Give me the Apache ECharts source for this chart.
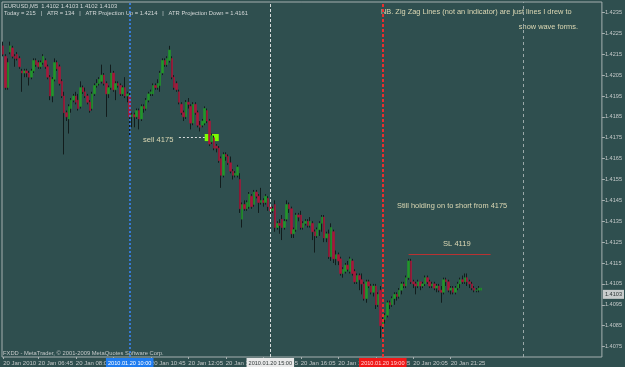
<!DOCTYPE html>
<html>
<head>
<meta charset="utf-8">
<script src="https://cdn.jsdelivr.net/npm/echarts@6/dist/echarts.min.js"></script>
<style>
  html, body { margin: 0; padding: 0; background: #2f4f4f; }
  #chart { width: 625px; height: 367px; }
</style>
</head>
<body>
<div id="chart"></div>
<script>
// EURUSD M5, 20 Jan 2010, one bar every 5 minutes from 05:30
const opens = [
  1.4219,1.4214,1.4199,1.4216,1.4218,1.4214,1.4215,1.4213,1.4207,1.4206,
  1.4207,1.4206,1.4204,1.4207,1.4212,1.4211,1.4209,1.4211,1.4212,1.4209,
  1.4204,1.4195,1.4203,1.4211,1.4209,1.4202,1.4195,1.4187,1.4184,1.4189,
  1.4193,1.4195,1.4193,1.4190,1.4199,1.4197,1.4195,1.4192,1.4189,1.4196,
  1.4200,1.4201,1.4202,1.4205,1.4201,1.4196,1.4199,1.4206,1.4198,1.4201,
  1.4200,1.4196,1.4199,1.4195,1.4195,1.4185,1.4186,1.4185,1.4188,1.4184,
  1.4190,1.4189,1.4193,1.4196,1.4196,1.4200,1.4199,1.4200,1.4206,1.4212,
  1.4210,1.4212,1.4213,1.4204,1.4201,1.4197,1.4191,1.4187,1.4185,1.4192,
  1.4190,1.4182,1.4191,1.4187,1.4181,1.4181,1.4182,1.4188,1.4183,1.4173,
  1.4175,1.4171,1.4170,1.4165,1.4157,1.4167,1.4166,1.4163,1.4159,1.4157,
  1.4157,1.4155,1.4136,1.4143,1.4141,1.4142,1.4147,1.4143,1.4149,1.4147,
  1.4144,1.4145,1.4144,1.4146,1.4142,1.4140,1.4143,1.4132,1.4134,1.4136,
  1.4132,1.4136,1.4143,1.4141,1.4129,1.4131,1.4138,1.4138,1.4132,1.4134,
  1.4135,1.4133,1.4134,1.4130,1.4128,1.4131,1.4134,1.4137,1.4127,1.4129,
  1.4118,1.4130,1.4117,1.4119,1.4117,1.4110,1.4111,1.4114,1.4111,1.4116,
  1.4111,1.4106,1.4109,1.4107,1.4105,1.4098,1.4106,1.4104,1.4101,1.4104,
  1.4095,1.4102,1.4085,1.4088,1.4090,1.4096,1.4095,1.4098,1.4100,1.4099,
  1.4102,1.4105,1.4104,1.4108,1.4116,1.4106,1.4105,1.4104,1.4106,1.4104,
  1.4105,1.4108,1.4106,1.4104,1.4105,1.4103,1.4104,1.4102,1.4101,1.4107,
  1.4106,1.4102,1.4103,1.4101,1.4103,1.4105,1.4107,1.4106,1.4108,1.4106,
  1.4105,1.4103,1.4102,1.4102,1.4102
];
const closes = [
  1.4215,1.4199,1.4211,1.4219,1.4214,1.4213,1.4213,1.4209,1.4206,1.4207,
  1.4206,1.4204,1.4207,1.4212,1.4210,1.4209,1.4211,1.4214,1.4209,1.4204,
  1.4195,1.4203,1.4211,1.4208,1.4201,1.4195,1.4187,1.4185,1.4190,1.4193,
  1.4195,1.4192,1.4189,1.4199,1.4197,1.4195,1.4192,1.4188,1.4196,1.4200,
  1.4201,1.4203,1.4205,1.4201,1.4196,1.4199,1.4206,1.4198,1.4201,1.4200,
  1.4196,1.4199,1.4195,1.4196,1.4185,1.4186,1.4185,1.4188,1.4184,1.4190,
  1.4189,1.4193,1.4196,1.4197,1.4200,1.4199,1.4201,1.4206,1.4212,1.4210,
  1.4213,1.4217,1.4204,1.4199,1.4198,1.4192,1.4187,1.4185,1.4192,1.4191,
  1.4182,1.4191,1.4187,1.4181,1.4180,1.4183,1.4189,1.4183,1.4172,1.4176,
  1.4170,1.4170,1.4164,1.4157,1.4167,1.4166,1.4163,1.4159,1.4157,1.4158,
  1.4161,1.4141,1.4143,1.4141,1.4144,1.4148,1.4142,1.4149,1.4147,1.4144,
  1.4145,1.4144,1.4147,1.4142,1.4140,1.4141,1.4132,1.4134,1.4133,1.4132,
  1.4135,1.4143,1.4141,1.4129,1.4131,1.4138,1.4137,1.4132,1.4134,1.4135,
  1.4133,1.4135,1.4130,1.4128,1.4131,1.4134,1.4137,1.4127,1.4129,1.4118,
  1.4132,1.4117,1.4119,1.4116,1.4110,1.4112,1.4114,1.4112,1.4117,1.4110,
  1.4106,1.4109,1.4107,1.4105,1.4098,1.4106,1.4104,1.4101,1.4104,1.4095,
  1.4100,1.4085,1.4088,1.4090,1.4096,1.4095,1.4098,1.4100,1.4099,1.4102,
  1.4105,1.4104,1.4108,1.4116,1.4106,1.4105,1.4104,1.4106,1.4104,1.4105,
  1.4108,1.4106,1.4104,1.4105,1.4103,1.4104,1.4102,1.4101,1.4107,1.4106,
  1.4102,1.4103,1.4101,1.4103,1.4105,1.4107,1.4106,1.4108,1.4106,1.4105,
  1.4103,1.4102,1.4102,1.4103,1.4103
];
const highs = [
  1.4221,1.4215,1.4213,1.4221,1.4219,1.4215,1.4216,1.4214,1.4208,1.4208,
  1.4208,1.4207,1.4208,1.4213,1.4213,1.4212,1.4212,1.4215,1.4213,1.4210,
  1.4205,1.4204,1.4213,1.4212,1.4210,1.4203,1.4197,1.4188,1.4191,1.4194,
  1.4196,1.4197,1.4196,1.4202,1.4200,1.4199,1.4196,1.4193,1.4197,1.4201,
  1.4203,1.4204,1.4210,1.4206,1.4202,1.4200,1.4210,1.4207,1.4202,1.4202,
  1.4201,1.4200,1.4204,1.4197,1.4197,1.4187,1.4187,1.4189,1.4189,1.4191,
  1.4191,1.4194,1.4197,1.4198,1.4201,1.4201,1.4203,1.4207,1.4213,1.4213,
  1.4214,1.4219,1.4214,1.4205,1.4202,1.4198,1.4192,1.4188,1.4193,1.4194,
  1.4191,1.4192,1.4192,1.4188,1.4183,1.4184,1.4190,1.4189,1.4184,1.4177,
  1.4176,1.4172,1.4171,1.4166,1.4168,1.4168,1.4167,1.4166,1.4160,1.4159,
  1.4162,1.4158,1.4144,1.4145,1.4145,1.4149,1.4148,1.4150,1.4150,1.4148,
  1.4151,1.4146,1.4148,1.4147,1.4143,1.4142,1.4145,1.4135,1.4136,1.4138,
  1.4136,1.4145,1.4144,1.4142,1.4132,1.4139,1.4139,1.4140,1.4135,1.4136,
  1.4136,1.4137,1.4135,1.4131,1.4132,1.4135,1.4138,1.4138,1.4130,1.4131,
  1.4134,1.4131,1.4121,1.4120,1.4118,1.4113,1.4115,1.4116,1.4118,1.4117,
  1.4112,1.4110,1.4110,1.4110,1.4106,1.4107,1.4107,1.4105,1.4105,1.4105,
  1.4101,1.4104,1.4089,1.4091,1.4097,1.4097,1.4099,1.4101,1.4101,1.4103,
  1.4106,1.4106,1.4109,1.4117,1.4117,1.4107,1.4106,1.4107,1.4106,1.4106,
  1.4109,1.4109,1.4107,1.4106,1.4106,1.4105,1.4105,1.4104,1.4108,1.4108,
  1.4107,1.4104,1.4104,1.4104,1.4106,1.4108,1.4109,1.4110,1.4110,1.4107,
  1.4106,1.4104,1.4103,1.4104,1.4103
];
const lows = [
  1.4214,1.4198,1.4198,1.4215,1.4213,1.4209,1.4212,1.4208,1.4197,1.4204,
  1.4204,1.4200,1.4203,1.4206,1.4209,1.4208,1.4208,1.4210,1.4208,1.4203,
  1.4193,1.4192,1.4202,1.4207,1.4200,1.4194,1.4167,1.4183,1.4177,1.4187,
  1.4192,1.4191,1.4188,1.4189,1.4196,1.4194,1.4191,1.4187,1.4188,1.4195,
  1.4199,1.4200,1.4201,1.4200,1.4185,1.4194,1.4198,1.4197,1.4193,1.4199,
  1.4195,1.4195,1.4194,1.4192,1.4176,1.4180,1.4180,1.4184,1.4179,1.4183,
  1.4187,1.4188,1.4192,1.4195,1.4195,1.4198,1.4198,1.4197,1.4205,1.4209,
  1.4209,1.4211,1.4203,1.4198,1.4197,1.4191,1.4186,1.4183,1.4184,1.4189,
  1.4179,1.4181,1.4186,1.4180,1.4178,1.4180,1.4181,1.4182,1.4171,1.4172,
  1.4169,1.4168,1.4163,1.4151,1.4156,1.4164,1.4162,1.4158,1.4155,1.4156,
  1.4156,1.4139,1.4132,1.4140,1.4140,1.4141,1.4141,1.4142,1.4146,1.4139,
  1.4143,1.4142,1.4143,1.4140,1.4138,1.4139,1.4130,1.4131,1.4129,1.4126,
  1.4131,1.4135,1.4139,1.4127,1.4127,1.4130,1.4135,1.4131,1.4131,1.4133,
  1.4132,1.4132,1.4126,1.4120,1.4127,1.4128,1.4130,1.4125,1.4125,1.4117,
  1.4116,1.4115,1.4114,1.4114,1.4109,1.4108,1.4110,1.4111,1.4110,1.4109,
  1.4105,1.4105,1.4102,1.4100,1.4097,1.4096,1.4103,1.4100,1.4099,1.4093,
  1.4094,1.4079,1.4083,1.4086,1.4089,1.4093,1.4094,1.4095,1.4097,1.4098,
  1.4100,1.4103,1.4103,1.4107,1.4105,1.4103,1.4100,1.4103,1.4102,1.4103,
  1.4104,1.4105,1.4103,1.4103,1.4102,1.4101,1.4101,1.4096,1.4100,1.4104,
  1.4101,1.4100,1.4100,1.4100,1.4102,1.4103,1.4105,1.4105,1.4104,1.4103,
  1.4102,1.4101,1.4101,1.4101,1.4102
];

const slotCount = 256; // bars + empty space to the right edge
const yTicks = [1.4075,1.4085,1.4095,1.4105,1.4115,1.4125,1.4135,1.4145,1.4155,
  1.4165,1.4175,1.4185,1.4195,1.4205,1.4215,1.4225,1.4235];
const xTickTimes = ['2010.01.20 05:30','2010.01.20 06:45','2010.01.20 08:05','2010.01.20 09:25',
  '2010.01.20 10:45','2010.01.20 12:05','2010.01.20 13:25','2010.01.20 14:45','2010.01.20 16:05',
  '2010.01.20 17:25','2010.01.20 18:45','2010.01.20 20:05','2010.01.20 21:25'];
const xTickLabels = ['20 Jan 2010','20 Jan 06:45','20 Jan 08:05','20 Jan 09:25','20 Jan 10:45',
  '20 Jan 12:05','20 Jan 13:25','20 Jan 14:45','20 Jan 16:05','20 Jan 17:25','20 Jan 18:45',
  '20 Jan 20:05','20 Jan 21:25'];
const separatorTimes = ['2010.01.20 10:00','2010.01.20 15:00','2010.01.20 19:00','2010.01.21 00:00'];
const lastPrice = 1.4103;
const sellLevel = 1.4175;
const sellLine = ['2010.01.20 11:45','2010.01.20 12:40'];
const sellBox = ['2010.01.20 12:40','2010.01.20 13:10'];
const sellBoxPrices = [1.41768, 1.41734];
const stopLevel = 1.4119;
const stopLine = ['2010.01.20 19:55','2010.01.20 22:50'];

function pad(n) { return String(n).padStart(2, '0'); }
const categories = [];
for (let i = 0; i < slotCount; i++) {
  const m = 330 + 5 * i;
  const day = m >= 1440 ? '21' : '20';
  const mm = m % 1440;
  categories.push(`2010.01.${day} ${pad(Math.floor(mm / 60))}:${pad(mm % 60)}`);
}

const wickData = opens.map((o, i) => [o, closes[i], lows[i], highs[i]]);
const bodyData = opens.map((o, i) => [o, closes[i], Math.min(o, closes[i]), Math.max(o, closes[i])]);

const FONT = '"Liberation Sans", Arial, sans-serif';
const AXIS_TEXT = '#c4c8c8';
const NOTE = '#dcd8b4';
const WICK = '#121c1c';
const BULL = '#21962a';
const BEAR = '#a8173a';

const chart = echarts.init(document.getElementById('chart'), null, { renderer: 'canvas' });

function sepLine(time, color, type, width, boxBg, boxText) {
  return {
    name: time,
    xAxis: time,
    lineStyle: { color, type, width },
    label: boxBg ? {
      show: true, position: 'start', distance: 1, formatter: '{b}',
      backgroundColor: boxBg, color: boxText, fontSize: 5.6, fontFamily: FONT,
      padding: [2, 2, 1, 2]
    } : { show: false }
  };
}

chart.setOption({
  backgroundColor: '#2f4f4f',
  animation: false,
  grid: { left: 2, right: 22, top: 2, bottom: 10, show: true, borderColor: '#a6b0b0', borderWidth: 1 },
  xAxis: {
    type: 'category',
    data: categories,
    boundaryGap: true,
    axisLine: { show: false },
    axisTick: {
      show: true, alignWithLabel: true, length: 2,
      interval: (idx, val) => xTickTimes.includes(val),
      lineStyle: { color: '#a6b0b0' }
    },
    axisLabel: {
      interval: (idx, val) => xTickTimes.includes(val),
      formatter: (val) => xTickLabels[xTickTimes.indexOf(val)] || '',
      align: 'left', margin: 3, color: AXIS_TEXT, fontSize: 6, fontFamily: FONT
    },
    splitLine: { show: false }
  },
  yAxis: {
    type: 'value',
    position: 'right',
    min: 1.4070,
    max: 1.4240,
    axisLine: { show: false },
    axisTick: { show: true, customValues: yTicks, length: 3, lineStyle: { color: '#a6b0b0' } },
    axisLabel: {
      customValues: yTicks, formatter: (v) => v.toFixed(4),
      color: AXIS_TEXT, fontSize: 5.6, fontFamily: FONT, margin: 3
    },
    splitLine: { show: false }
  },
  series: [
    {
      name: 'wicks',
      type: 'candlestick',
      data: wickData,
      barWidth: 1,
      silent: true,
      itemStyle: { color: WICK, color0: WICK, borderColor: WICK, borderColor0: WICK, borderWidth: 1 }
    },
    {
      name: 'bodies',
      type: 'candlestick',
      data: bodyData,
      barWidth: 2,
      silent: true,
      itemStyle: { color: BULL, color0: BEAR, borderColor: BULL, borderColor0: BEAR, borderWidth: 0.6 },
      markArea: {
        silent: true,
        itemStyle: { color: '#7cfc00' },
        data: [[{ xAxis: sellBox[0], yAxis: sellBoxPrices[0] }, { xAxis: sellBox[1], yAxis: sellBoxPrices[1] }]]
      },
      markLine: {
        silent: true,
        symbol: ['none', 'none'],
        animation: false,
        data: [
          sepLine(separatorTimes[0], '#3a88ff', [2, 2], 1.5, '#1e7cf0', '#ffffff'),
          sepLine(separatorTimes[1], '#d8dcdc', [3, 2], 1, '#e8e8e8', '#303838'),
          sepLine(separatorTimes[2], '#ff2a2a', [3, 2], 1.8, '#f01818', '#ffd8d8'),
          sepLine(separatorTimes[3], '#9aa8a8', [3, 3], 1, null, null),
          [
            { coord: [sellLine[0], sellLevel], lineStyle: { color: '#d8dcdc', type: [2, 2], width: 1 }, label: { show: false } },
            { coord: [sellLine[1], sellLevel] }
          ],
          [
            { coord: [stopLine[0], stopLevel], lineStyle: { color: '#b83232', type: 'solid', width: 1 }, label: { show: false } },
            { coord: [stopLine[1], stopLevel] }
          ],
          {
            yAxis: lastPrice,
            lineStyle: { color: 'rgba(0,0,0,0)', width: 0 },
            label: {
              show: true, position: 'end', distance: 1, formatter: lastPrice.toFixed(4),
              backgroundColor: '#c8cccc', color: '#2a3434', fontSize: 5.6, fontFamily: FONT,
              padding: [2, 2, 1, 2]
            }
          }
        ]
      }
    }
  ],
  graphic: [
    { type: 'text', x: 4, y: 6, style: { text: 'EURUSD,M5  1.4102 1.4103 1.4102 1.4103', fill: '#d4d8d8', font: '5.8px ' + FONT, verticalAlign: 'middle' } },
    { type: 'text', x: 4, y: 13, style: { text: 'Today = 215   |   ATR = 134   |   ATR Projection Up = 1.4214   |   ATR Projection Down = 1.4161', fill: '#d4d8d8', font: '5.8px ' + FONT, verticalAlign: 'middle' } },
    { type: 'text', x: 381, y: 12, style: { text: 'NB. Zig Zag Lines (not an indicator) are just lines I drew to', fill: NOTE, font: '7.4px ' + FONT, verticalAlign: 'middle' } },
    { type: 'text', x: 578, y: 27, style: { text: 'show wave forms.', fill: NOTE, font: '7.4px ' + FONT, verticalAlign: 'middle', align: 'right' } },
    { type: 'text', x: 143, y: 140, style: { text: 'sell 4175', fill: NOTE, font: '7.6px ' + FONT, verticalAlign: 'middle' } },
    { type: 'text', x: 397, y: 206, style: { text: 'Still holding on to short from 4175', fill: NOTE, font: '7.4px ' + FONT, verticalAlign: 'middle' } },
    { type: 'text', x: 443, y: 244, style: { text: 'SL 4119', fill: NOTE, font: '7.6px ' + FONT, verticalAlign: 'middle' } },
    { type: 'text', x: 3, y: 353, style: { text: 'FXDD - MetaTrader, \u00a9 2001-2009 MetaQuotes Software Corp.', fill: '#c4c8c8', font: '5.8px ' + FONT, verticalAlign: 'middle' } }
  ]
});
</script>
</body>
</html>
